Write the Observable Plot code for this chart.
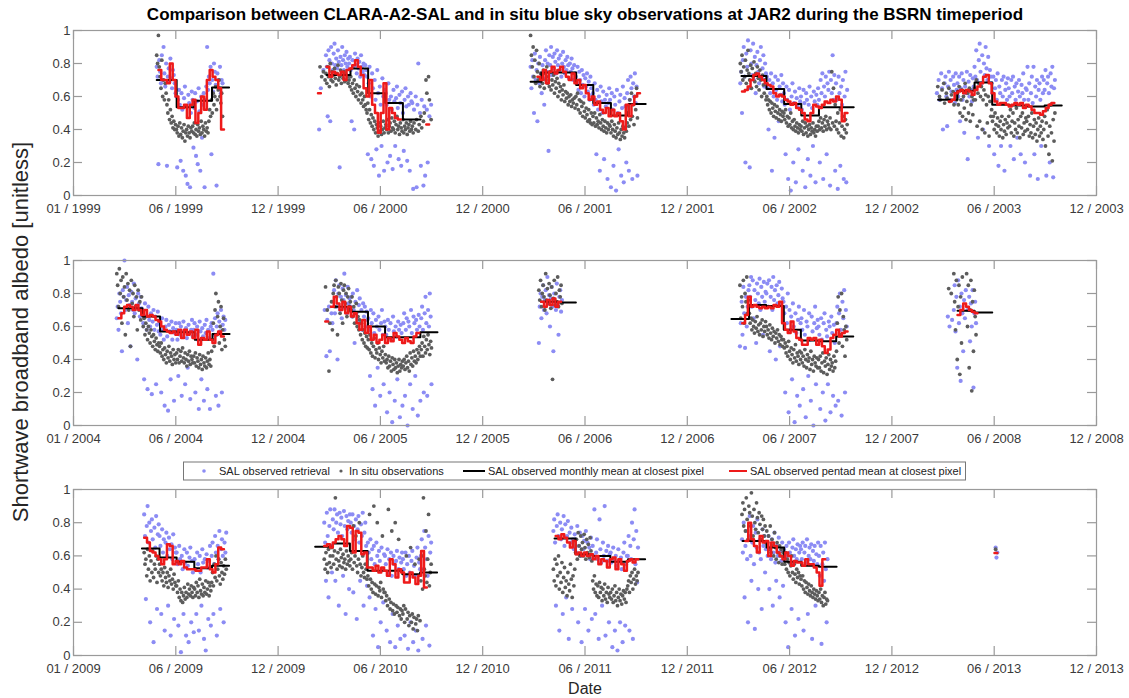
<!DOCTYPE html>
<html><head><meta charset="utf-8">
<script src="https://cdn.jsdelivr.net/npm/d3@7"></script>
<script src="https://cdn.jsdelivr.net/npm/@observablehq/plot@0.6"></script>
<style>
body{margin:0;background:#fff;}
#fig{position:relative;width:1129px;height:698px;overflow:hidden;background:#fff;font-family:"Liberation Sans",Arial,Helvetica,sans-serif;}
#fig svg{position:absolute;left:0;}
</style></head><body><div id="fig"></div>
<script>
const _ = null;
// ---------- axes / labels ----------
const panelYears = [1999, 2004, 2009];
const xTickLabels = [
  ["01 / 1999","06 / 1999","12 / 1999","06 / 2000","12 / 2000","06 / 2001","12 / 2001","06 / 2002","12 / 2002","06 / 2003","12 / 2003"],
  ["01 / 2004","06 / 2004","12 / 2004","06 / 2005","12 / 2005","06 / 2006","12 / 2006","06 / 2007","12 / 2007","06 / 2008","12 / 2008"],
  ["01 / 2009","06 / 2009","12 / 2009","06 / 2010","12 / 2010","06 / 2011","12 / 2011","06 / 2012","12 / 2012","06 / 2013","12 / 2013"]
];
const yTickValues = [0, 0.2, 0.4, 0.6, 0.8, 1];
const yTickLabels = ["0", "0.2", "0.4", "0.6", "0.8", "1"];
const legendLabels = ["SAL observed retrieval", "In situ observations", "SAL observed monthly mean at closest pixel", "SAL observed pentad mean at closest pixel"];

// ---------- seasons (albedo in %, points every 1.5 days from start) ----------
const seasonPanel = [0,0,0,0,0,1,1,1,1,1,2,2,2,2,2];
const seasonStart = ["1999-05-27","2000-03-07","2001-03-13","2002-03-16","2003-02-24","2004-03-17","2005-03-17","2006-03-28","2007-03-16","2008-03-15","2009-05-05","2010-03-17","2011-04-23","2012-03-19","2013-06-07"];
const pentadStart = ["1999-05-30","2000-03-05","2001-03-25","2002-03-19","2003-03-17","2004-03-20","2005-03-18","2006-04-01","2007-03-20","2008-04-01","2009-05-05","2010-03-17","2011-04-27","2012-03-25","2013-06-05"];

const blueS1 = [78,72,19,82,75,68,85,70,90,74,66,80,18,72,77,69,83,71,65,76,73,68,62,
60,17,58,64,55,21,62,52,15,59,66,12,54,7,61,56,5,50,63,
58,29,53,62,24,57,19,65,51,15,60,35,55,62,5,58,66,90,64,
72,68,78,25,70,63,80,75,67,6,74,70,65,78,62,70,68];
const greyS1 = [85,80,97,78,72,65,82,60,70,58,68,
62,55,50,58,46,52,44,48,41,45,40,43,
40,38,42,36,44,37,41,35,39,43,33,38,40,36,42,38,35,41,39,
42,38,44,37,40,36,43,39,41,37,45,38,42,40,36,44,39,41,38,
45,52,48,58,50,62,55,60,66,52,58,64,70,60,56,62,48];
const redS1 = [76,70,70,68,80,70,60,53,53,55,47,55,58,44,50,60,52,70,76,72,70,65,40];
const monDatesS1 = ["1999-05-27","1999-07-01","1999-08-01","1999-09-01","1999-10-01"];
const monS1 = [70,53.5,57.5,65.5];

const blueS2 = [40,_,65,_,_,76,_,_,
85,78,48,88,82,45,90,80,76,86,92,79,83,77,88,81,17,84,79,90,82,76,85,80,87,78,83,
80,84,76,45,82,78,40,86,79,74,83,77,81,72,85,78,75,80,73,79,76,
72,25,68,78,60,22,74,65,18,70,58,28,76,62,12,66,55,30,71,60,15,64,
62,55,20,68,58,24,60,52,16,64,57,30,59,66,53,22,61,56,18,63,50,27,58,65,54,21,60,55,15,62,57,
56,4,52,_,60,5,55,80,_,50,18,58,_,6,54,12,_,52,20,_,48,_,55];
const greyS2 = [_,78,_,72,_,75,_,70,
74,68,78,72,66,80,70,75,69,73,77,71,67,74,79,70,72,76,68,73,71,75,69,74,70,72,68,
70,66,72,64,68,62,70,65,60,67,63,58,66,61,56,62,58,54,60,55,52,
50,56,46,52,44,49,42,47,40,45,38,43,41,36,44,39,42,37,40,45,38,41,
43,40,46,38,42,44,39,47,41,40,45,38,43,48,40,42,37,44,41,39,46,38,42,40,44,37,41,43,39,45,40,
42,38,44,_,40,46,_,39,43,_,48,41,_,45,50,_,70,62,_,72,58,_,46];
const redS2 = [62,_,_,78,72,75,74,73,75,70,76,77,79,82,78,73,65,60,70,55,50,38,50,68,40,53,50,47,46,_,_,_,_,_,_,_,_,_,43];
const monDatesS2 = ["2000-03-20","2000-05-01","2000-06-01","2000-07-01","2000-08-01","2000-09-01"];
const monS2 = [73,77,62,56,46];

const blueS3 = [78,65,82,72,50,86,70,76,45,80,68,84,74,62,79,71,55,
82,88,75,80,27,85,79,90,73,84,77,86,81,74,88,79,83,76,85,72,80,87,78,74,82,76,84,79,71,80,75,83,77,70,79,74,
72,68,78,64,75,70,62,76,67,73,60,71,66,74,63,69,58,72,65,61,
62,55,68,58,25,64,52,60,15,66,57,50,63,22,58,54,61,10,56,65,
58,5,62,52,18,60,55,3,64,50,28,57,61,12,53,66,8,59,54,20,
62,70,15,58,72,65,10,68,60,74,56,66,12];
const greyS3 = [97,85,78,90,72,82,68,88,75,70,80,66,74,71,68,76,65,
74,70,78,68,72,66,75,64,70,67,73,62,69,65,71,60,68,63,66,58,64,61,67,57,63,59,62,55,60,57,61,54,58,56,59,53,
60,55,62,52,58,50,57,54,48,56,51,47,53,49,45,52,46,44,50,43,
48,44,50,42,47,43,45,41,49,44,40,46,42,39,45,41,38,44,40,43,
42,38,45,40,36,43,39,35,41,37,44,38,34,40,36,42,38,35,41,39,
44,50,42,58,46,62,48,55,43,60,52,65,47];
const redS3 = [72,70,76,68,75,78,74,76,78,75,72,70,74,68,70,65,67,62,58,60,55,57,52,50,53,48,52,48,50,45,40,55,48,55,60,62];
const monDatesS3 = ["2001-03-13","2001-04-01","2001-06-01","2001-07-01","2001-08-01","2001-09-01","2001-10-01"];
const monS3 = [69,74.5,67,56,48.5,55.5];

const blueS4 = [68,75,50,82,90,72,20,86,78,94,65,17,88,80,73,92,70,84,62,79,87,75,68,82,90,71,77,85,66,80,74,
72,65,40,70,62,74,15,68,60,35,72,64,58,70,45,66,61,73,57,68,
62,55,25,66,58,10,64,52,3,60,68,20,56,63,8,59,54,28,65,57,
60,52,15,64,56,5,62,58,22,55,66,12,60,53,30,63,57,8,61,55,
65,58,20,70,62,74,10,66,60,72,25,68,64,75,6,70,62,85,58,73,15,
68,58,4,72,62,18,66,55,70,10,60,75,8,64];
const greyS4 = [80,75,85,70,78,72,82,68,76,88,74,70,79,65,77,72,81,69,74,66,78,71,64,76,70,60,73,67,62,70,58,
60,55,58,52,57,50,56,53,48,55,51,47,54,50,46,52,49,45,51,48,
50,46,52,44,48,42,47,43,50,41,45,40,46,42,39,44,41,38,43,40,
42,39,45,37,41,44,38,42,36,40,43,37,41,39,44,38,40,36,42,39,
42,45,40,47,41,44,39,46,42,48,40,45,43,41,47,40,75,44,65,42,55,
45,40,50,38,44,52,36,42,48,35,40,46,38,43];
const redS4 = [63,64,66,70,73,74,72,70,68,67,66,62,60,61,60,58,57,55,56,53,52,50,46,45,50,55,54,53,55,57,56,58,57,60,58,45,50];
const monDatesS4 = ["2002-03-18","2002-05-01","2002-06-01","2002-07-01","2002-08-01","2002-09-01","2002-10-01"];
const monS4 = [72.5,64.5,55.5,48.5,53.5,53.5];

const blueS5 = [62,_,70,58,_,74,65,40,_,68,72,60,42,66,75,58,70,63,_,72,67,56,74,64,
68,60,72,45,65,74,58,70,38,66,62,75,22,69,60,73,64,57,71,66,
78,72,88,70,35,82,92,75,68,85,40,80,73,90,77,70,84,30,76,72,
68,62,72,25,65,70,58,74,18,66,62,30,70,60,72,15,64,68,58,71,
65,60,30,70,62,72,22,66,58,68,35,63,70,60,25,67,62,74,58,20,65,
64,78,58,68,12,62,72,56,78,25,66,60,70,10,64,68,58,30,72,62,
70,64,76,12,68,72,62,20,74,66,78,11,65,70];
const greyS5 = [_,66,_,60,58,_,64,_,68,56,_,62,59,_,65,57,_,61,_,63,55,_,60,58,
62,55,66,50,58,64,48,60,53,68,46,57,62,50,65,45,55,60,49,58,
65,58,70,42,62,68,45,60,66,40,58,64,38,61,55,44,60,36,57,48,
52,45,48,40,50,43,38,47,42,36,45,40,48,35,43,39,46,37,44,41,
48,42,52,38,45,50,36,44,40,53,38,46,42,35,48,41,50,37,44,39,47,
45,40,48,36,43,38,50,35,42,46,37,44,33,40,47,36,42,38,45,34,
40,48,30,44,52,36,25,42,55,38,21,46,33,50];
const redS5 = [57,58,62,63,64,62,64,63,61,64,66,68,72,73,68,62,57,55,56,56,55,54,55,56,55,56,53,55,54,52,50,50,49,51,53,55,56];
const monDatesS5 = ["2003-02-26","2003-04-01","2003-05-01","2003-06-01","2003-07-01","2003-08-01","2003-09-01","2003-10-01"];
const monS5 = [58,63.5,68.5,55,54.5,54,54.5];

const blueS6 = [65,72,58,80,75,68,45,82,78,100,70,76,84,62,79,73,48,81,75,70,86,68,77,72,40,80,74,66,78,71,
70,62,28,74,66,58,22,72,64,60,68,19,63,70,58,66,25,61,69,57,
62,55,20,65,58,52,12,60,64,54,9,61,57,28,63,52,59,15,56,62,
58,52,30,62,55,60,18,54,63,57,25,59,53,35,61,56,16,58,64,54,
58,62,20,55,60,52,10,63,57,28,59,54,15,61,56,64,22,58,53,10,60,
62,58,92,55,65,18,60,68,12,63,57,70,20,61,66,58,64];
const greyS6 = [92,85,72,95,80,88,62,90,78,84,55,92,76,86,70,82,48,88,74,80,66,85,72,78,58,82,70,75,64,78,
68,60,65,55,62,58,52,60,56,50,58,54,48,55,51,46,53,49,45,50,
48,44,50,42,46,40,47,43,38,45,41,48,39,44,42,37,46,40,43,38,
44,40,46,38,42,45,39,47,41,38,44,40,36,43,39,45,37,42,40,38,
42,38,44,36,41,39,35,43,37,40,34,42,38,36,41,35,39,44,37,40,36,
45,52,62,48,70,80,55,66,75,50,60,72,46,58,65,52,48];
const redS6 = [65,68,72,73,72,70,73,70,67,70,66,67,66,64,63,60,58,57,56,57,55,58,53,58,55,57,53,58,49,53,52,57,52,50,55,57,54];
const monDatesS6 = ["2004-03-20","2004-05-01","2004-06-01","2004-07-01","2004-08-01","2004-09-01","2004-10-01"];
const monS6 = [71,66,57,56.5,52,55.5];

const blueS7 = [70,_,42,64,_,72,45,_,68,62,
75,82,68,88,72,40,80,85,70,78,65,83,76,92,71,79,68,84,74,77,
72,78,66,80,70,50,75,68,82,64,73,77,62,70,58,74,66,72,60,69,64,
65,58,30,70,62,22,68,56,12,64,60,35,66,58,18,62,70,55,25,63,
60,55,8,64,58,20,62,52,2,66,57,15,60,54,28,63,58,5,61,56,12,
62,68,18,58,65,0,63,60,25,70,56,10,66,62,30,64,58,6,67,60,15,
65,72,58,20,68,78,62,18,70,60,80,66,25];
const greyS7 = [_,84,_,70,_,33,62,_,75,58,
80,85,72,88,78,55,84,80,68,86,76,62,82,85,74,80,66,78,83,72,
75,70,78,66,72,62,68,74,60,66,58,64,55,62,52,58,50,56,48,54,47,
52,46,55,44,50,42,48,53,41,46,44,50,40,47,43,38,45,41,48,39,
43,38,40,35,42,36,39,33,41,37,34,40,35,38,32,36,40,33,37,35,39,
36,40,34,38,42,35,39,33,44,37,41,36,45,39,42,38,46,40,44,48,42,
46,50,42,54,48,44,52,46,55,49,43,51,47];
const redS7 = [63,_,72,78,74,70,75,68,72,66,68,62,58,64,56,60,52,55,50,52,55,50,53,51,56,54,52,50,53,51,50,54,56];
const monDatesS7 = ["2005-04-01","2005-05-01","2005-06-01","2005-07-01","2005-08-01","2005-09-01","2005-10-01"];
const monS7 = [72,69,60,53.5,53.5,56.5];

const blueS8 = [50,72,80,65,78,85,70,76,82,68,90,74,79,60,77,84,72,45,80,75,70,86,73,55,78,82,69,76];
const greyS8 = [82,76,88,72,80,85,78,70,92,76,83,74,86,79,71,84,28,77,88,73,80,75,90,72,82,78,85,74];
const redS8 = [75,72,76,73,77,72,75];
const monDatesS8 = ["2006-04-01","2006-05-01","2006-06-01"];
const monS8 = [75,74.5];

const blueS9 = [48,62,75,55,84,68,47,78,60,72,82,
85,78,90,72,88,65,82,76,50,86,80,74,89,70,84,78,55,87,75,81,
80,86,72,88,45,78,84,70,90,76,82,40,85,74,79,87,48,73,83,77,
75,68,20,72,62,80,8,70,58,66,28,74,60,2,68,56,18,64,72,12,62,
65,58,22,70,55,5,63,60,30,68,52,15,66,57,0,62,72,25,59,64,
60,55,10,65,52,20,62,68,3,58,54,25,63,60,8,66,56,18,61,50,12,
62,72,15,68,80,58,6,75,65,82,20,70,60];
const greyS9 = [85,65,78,72,88,62,80,75,90,68,76,
68,62,65,58,64,60,56,63,59,66,57,61,55,62,58,64,54,60,57,63,
60,55,58,53,61,56,52,59,54,57,50,56,53,58,51,55,49,54,52,48,
52,47,50,44,48,42,51,45,40,47,43,38,46,41,49,39,44,42,37,45,40,
44,38,42,36,46,40,35,43,39,41,34,45,37,40,33,42,38,36,41,35,
40,35,42,33,38,44,32,39,36,41,31,37,43,34,40,36,38,33,42,35,39,
45,62,78,50,70,55,80,48,66,58,42,60,52];
const redS9 = [62,67,78,72,73,72,71,72,71,72,71,73,72,75,62,58,56,63,57,53,52,49,49,53,52,53,49,52,48,44,46,53,55,58,54,56,57];
const monDatesS9 = ["2007-03-01","2007-04-01","2007-05-01","2007-06-01","2007-07-01","2007-08-01","2007-09-01","2007-10-01"];
const monS9 = [64.5,73,72.5,58,51.5,51,54];

const blueS10 = [66,_,60,_,_,64,_,70,85,57,78,35,88,62,72,27,80,68,45,76,65,82,_,70,_,78,51,74,60,82,23,68,75,62];
const greyS10 = [_,83,_,_,80,_,_,92,75,58,88,40,72,85,31,78,50,90,_,_,_,_,92,60,85,35,70,88,21,75,45,82,66,55];
const redS10 = [67,70,74,72,70,69,68];
const monDatesS10 = ["2008-04-01","2008-05-01","2008-06-01"];
const monS10 = [69.5,68.5];

const blueS11 = [85,72,34,78,90,68,80,20,75,82,70,8,77,65,84,28,73,79,
72,66,25,76,62,70,15,68,74,60,30,71,64,12,67,58,73,22,65,62,
62,55,18,66,58,2,60,52,25,64,56,12,62,54,8,59,65,20,57,50,14,
58,52,25,62,55,15,60,50,30,64,56,10,58,3,61,53,22,57,66,18,
60,68,25,55,72,62,12,66,58,75,28,64,70,60,20,68,62,74];
const greyS11 = [62,55,58,48,64,52,60,45,57,50,63,47,55,52,60,44,58,50,
55,48,52,45,50,42,53,47,44,50,41,48,45,52,43,46,40,49,44,42,
42,38,45,35,40,33,38,32,36,41,34,38,35,43,37,40,36,42,38,35,41,
40,36,44,38,42,35,46,39,37,43,36,41,38,45,37,40,44,36,42,39,
44,50,42,55,47,60,45,52,58,48,43,56,50,46,54,49,58,52];
const redS11 = [71,68,63,62,60,58,55,58,67,66,55,57,55,57,53,52,52,52,51,51,53,53,58,52,50,55,65,64];
const monDatesS11 = ["2009-05-01","2009-06-01","2009-07-01","2009-08-01","2009-09-01","2009-10-01"];
const monS11 = [64.5,59,56.5,52.5,54];

const blueS12 = [80,68,45,86,72,35,78,88,66,50,
82,76,88,45,80,85,74,30,86,79,83,72,48,87,78,25,84,76,81,40,85,
80,74,85,38,78,70,82,22,76,84,68,45,79,72,86,30,74,80,66,42,
68,62,35,70,58,64,12,66,55,28,68,60,5,63,57,20,65,52,32,61,
60,55,15,64,50,58,8,62,48,25,60,55,5,57,63,18,52,59,10,56,62,
58,52,12,62,48,55,4,60,50,20,57,63,8,54,48,15,59,65,3,56,52,
60,70,10,52,75,65,18,58,48,72,6,62,68];
const greyS12 = [58,52,62,55,50,64,56,60,53,65,
60,55,63,95,58,52,62,57,54,64,59,53,61,56,58,52,63,55,60,57,54,
58,62,52,78,56,60,72,54,50,58,80,55,48,53,60,50,47,55,52,46,
48,42,85,46,40,44,38,90,43,37,42,80,36,41,39,44,35,72,40,38,
38,33,36,30,88,34,28,32,75,27,31,25,80,30,26,29,70,24,28,22,27,
25,30,20,28,60,22,26,18,24,65,20,25,16,23,55,19,22,15,24,58,21,
45,60,40,95,52,48,75,44,58,85,42,50,55];
const redS12 = [66,67,65,68,70,72,70,66,78,77,62,75,74,61,62,53,53,51,54,50,53,51,48,58,55,47,52,50,44,44,50,47,43,48,63,41];
const monDatesS12 = ["2010-03-01","2010-04-01","2010-05-01","2010-06-01","2010-07-01","2010-08-01","2010-09-01","2010-10-01"];
const monS12 = [65.5,67.5,63,51,51,49,50];

const blueS13 = [75,82,68,30,78,85,72,15,80,70,76,25,84,66,79,35,72,81,10,74,68,77,28,70,64,73,
70,62,78,20,66,74,60,8,72,64,69,28,75,61,68,15,65,58,71,22,
66,60,88,25,62,70,58,10,82,64,56,30,68,60,90,12,63,57,66,20,61,
62,56,5,65,58,15,60,54,3,64,57,20,59,52,8,62,68,18,55,60,
60,72,15,66,58,80,10,70,88,55,75,44,65];
const greyS13 = [52,45,58,42,55,48,60,40,50,44,56,38,47,53,41,45,36,50,43,39,55,46,35,48,42,52,
62,70,58,74,66,60,72,64,68,60,73,65,58,70,62,67,59,71,63,57,
45,40,48,38,43,36,42,35,44,38,41,33,40,36,43,34,38,32,41,37,35,
38,34,40,32,36,42,33,38,30,35,40,33,37,31,36,39,34,38,32,40,
42,45,38,48,44,50,40,46,52,43,48,45,50];
const redS13 = [72,70,73,71,68,65,69,61,62,60,62,60,61,58,60,55,58,57,53,58,59,52,58,55,51,57,58,56,58];
const monDatesS13 = ["2011-04-25","2011-06-01","2011-07-01","2011-08-01","2011-09-01","2011-10-01"];
const monS13 = [70.5,61,60,56.5,58];

const blueS14 = [70,62,80,35,66,75,58,20,72,84,60,45,68,78,55,16,74,65,82,40,62,70,58,28,76,66,72,50,64,
68,60,72,40,65,58,70,30,62,74,56,45,66,60,71,35,63,57,68,42,
64,58,20,66,60,5,68,62,55,28,65,70,60,12,64,58,67,22,62,66,
64,58,68,15,62,66,56,70,25,60,65,58,67,10,63,57,66,30,61,55,68,
60,48,66,7,55,62,45,68,52,20,58];
const greyS14 = [85,92,78,88,75,95,82,70,90,86,78,98,84,72,88,80,76,92,83,74,86,79,70,84,76,82,72,78,68,
75,68,72,64,78,62,70,66,60,74,65,58,68,62,56,66,60,64,55,62,
60,55,62,52,58,50,56,48,54,60,50,46,55,49,44,52,47,50,43,48,
46,42,48,40,45,38,44,41,37,43,39,36,42,38,35,40,37,34,39,36,33,
38,34,40,32,36,30,35,38,31,34,33];
const redS14 = [69,80,70,66,62,72,68,69,60,68,66,62,60,58,62,60,54,57,56,56,54,58,55,55,53,50,42,58];
const monDatesS14 = ["2012-03-20","2012-05-01","2012-06-01","2012-07-01","2012-08-01","2012-09-01"];
const monS14 = [69,65,56.5,54,53.5];

const blueS15 = [65,59,62];
const greyS15 = [64];
const redS15 = [61.7];
const monDatesS15 = [];
const monS15 = [];

const seasonBlue = [blueS1,blueS2,blueS3,blueS4,blueS5,blueS6,blueS7,blueS8,blueS9,blueS10,blueS11,blueS12,blueS13,blueS14,blueS15];
const seasonGrey = [greyS1,greyS2,greyS3,greyS4,greyS5,greyS6,greyS7,greyS8,greyS9,greyS10,greyS11,greyS12,greyS13,greyS14,greyS15];
const seasonRed = [redS1,redS2,redS3,redS4,redS5,redS6,redS7,redS8,redS9,redS10,redS11,redS12,redS13,redS14,redS15];
const seasonMonDates = [monDatesS1,monDatesS2,monDatesS3,monDatesS4,monDatesS5,monDatesS6,monDatesS7,monDatesS8,monDatesS9,monDatesS10,monDatesS11,monDatesS12,monDatesS13,monDatesS14,monDatesS15];
const seasonMon = [monS1,monS2,monS3,monS4,monS5,monS6,monS7,monS8,monS9,monS10,monS11,monS12,monS13,monS14,monS15];

// ---------- build tables ----------
const DAY = 864e5;
const BLUE = "#8c8cf4", GREY = "#5c5c5c", RED = "#ee1a1a", AX = "#9a9a9a";
const FONT = '"Liberation Sans", Arial, Helvetica, sans-serif';
function dotRows(start, vals, s) {
  const t0 = Date.parse(start), out = [];
  vals.forEach((v, i) => { if (v != null) out.push({t: new Date(t0 + i * 1.5 * DAY), v: v / 100, s}); });
  return out;
}
function stepRows(edges, vals, s) {
  const out = [];
  vals.forEach((v, i) => {
    if (v == null) { out.push({t: edges[i], v: NaN, s}); return; }
    out.push({t: edges[i], v: v / 100, s}, {t: edges[i + 1], v: v / 100, s});
  });
  return out;
}
const panels = [0,1,2].map(() => ({blue: [], grey: [], red: [], black: []}));
seasonStart.forEach((st, s) => {
  const P = panels[seasonPanel[s]];
  P.blue.push(...dotRows(st, seasonBlue[s], s));
  P.grey.push(...dotRows(st, seasonGrey[s], s));
  const p0 = Date.parse(pentadStart[s]);
  const pe = d3.range(seasonRed[s].length + 1).map(i => new Date(p0 + i * 5 * DAY));
  const redVals = Array.from(seasonRed[s], v => v === undefined ? null : v);
  P.red.push(...stepRows(pe, redVals, s));
  const me = seasonMonDates[s].map(d => new Date(Date.parse(d)));
  P.black.push(...stepRows(me, seasonMon[s], s));
});

// ---------- draw ----------
const fig = document.getElementById("fig");
const panelTop = [30, 260, 489], panelH = [165, 165, 166];
const mL = 73, mR = 33, mT = 12, mB = 34, W = 1129;
const yLab = new Map(yTickValues.map((v, i) => [v, yTickLabels[i]]));
[0,1,2].forEach(p => {
  const d0 = new Date(Date.UTC(panelYears[p], 0, 1)), d1 = new Date(Date.UTC(panelYears[p] + 4, 11, 1));
  const xt = d3.range(11).map(k => new Date(+d0 + k * (d1 - d0) / 10));
  const xLab = new Map(xt.map((d, k) => [+d, xTickLabels[p][k]]));
  const iH = panelH[p], iW = W - mL - mR;
  const P = panels[p];
  const svg = Plot.plot({
    width: W, height: iH + mT + mB,
    marginLeft: mL, marginRight: mR, marginTop: mT, marginBottom: mB,
    x: {type: "utc", domain: [d0, d1]},
    y: {domain: [0, 1]},
    style: {fontFamily: FONT, fontSize: "13px", color: "#3a3a3a", background: "transparent", overflow: "visible"},
    marks: [
      Plot.dot(P.blue, {x: "t", y: "v", r: 2.1, fill: BLUE}),
      Plot.dot(P.grey, {x: "t", y: "v", r: 1.9, fill: GREY}),
      Plot.line(P.black, {x: "t", y: "v", z: "s", stroke: "#000", strokeWidth: 2}),
      Plot.line(P.red, {x: "t", y: "v", z: "s", stroke: RED, strokeWidth: 2.5}),
      Plot.frame({stroke: AX, strokeWidth: 1.2}),
      Plot.tickX(xt, {x: d => d, stroke: AX, strokeWidth: 1.2, insetTop: iH - 9}),
      Plot.tickX(xt, {x: d => d, stroke: AX, strokeWidth: 1.2, insetBottom: iH - 9}),
      Plot.tickY(yTickValues, {y: d => d, stroke: AX, strokeWidth: 1.2, insetRight: iW - 9}),
      Plot.tickY(yTickValues, {y: d => d, stroke: AX, strokeWidth: 1.2, insetLeft: iW - 9}),
      Plot.axisX(xt, {tickSize: 0, tickPadding: 8, tickFormat: d => xLab.get(+d), label: null, fontSize: 13}),
      Plot.axisY(yTickValues, {tickSize: 0, tickPadding: 3, tickFormat: d => yLab.get(d), label: null, fontSize: 13})
    ]
  });
  svg.style.top = (panelTop[p] - mT) + "px";
  fig.appendChild(svg);
});

// overlay: title, axis titles, legend
const ov = d3.select(fig).append("svg").attr("width", W).attr("height", 698)
  .style("top", "0px").style("font-family", FONT);
ov.append("text").attr("x", 585).attr("y", 20).attr("text-anchor", "middle")
  .attr("font-weight", "bold").attr("font-size", 17).attr("fill", "#000")
  .text("Comparison between CLARA-A2-SAL and in situ blue sky observations at JAR2 during the BSRN timeperiod");
ov.append("text").attr("transform", "translate(28,332) rotate(-90)").attr("text-anchor", "middle")
  .attr("font-size", 22).attr("fill", "#262626").text("Shortwave broadband albedo [unitless]");
ov.append("text").attr("x", 585).attr("y", 694).attr("text-anchor", "middle")
  .attr("font-size", 16).attr("fill", "#262626").text("Date");
const lg = ov.append("g");
lg.append("rect").attr("x", 183.5).attr("y", 462).attr("width", 782).attr("height", 18)
  .attr("fill", "#fff").attr("stroke", "#777").attr("stroke-width", 1);
const ly = 471;
lg.append("circle").attr("cx", 204).attr("cy", ly).attr("r", 1.8).attr("fill", BLUE);
lg.append("circle").attr("cx", 341).attr("cy", ly).attr("r", 1.6).attr("fill", GREY);
lg.append("line").attr("x1", 463).attr("x2", 485).attr("y1", ly).attr("y2", ly).attr("stroke", "#000").attr("stroke-width", 2);
lg.append("line").attr("x1", 729).attr("x2", 747).attr("y1", ly).attr("y2", ly).attr("stroke", RED).attr("stroke-width", 2);
[[219, 0], [349, 1], [488, 2], [750, 3]].forEach(([x, i]) => {
  lg.append("text").attr("x", x).attr("y", ly + 3.8).attr("font-size", 11).attr("fill", "#222").text(legendLabels[i]);
});
</script></body></html>
